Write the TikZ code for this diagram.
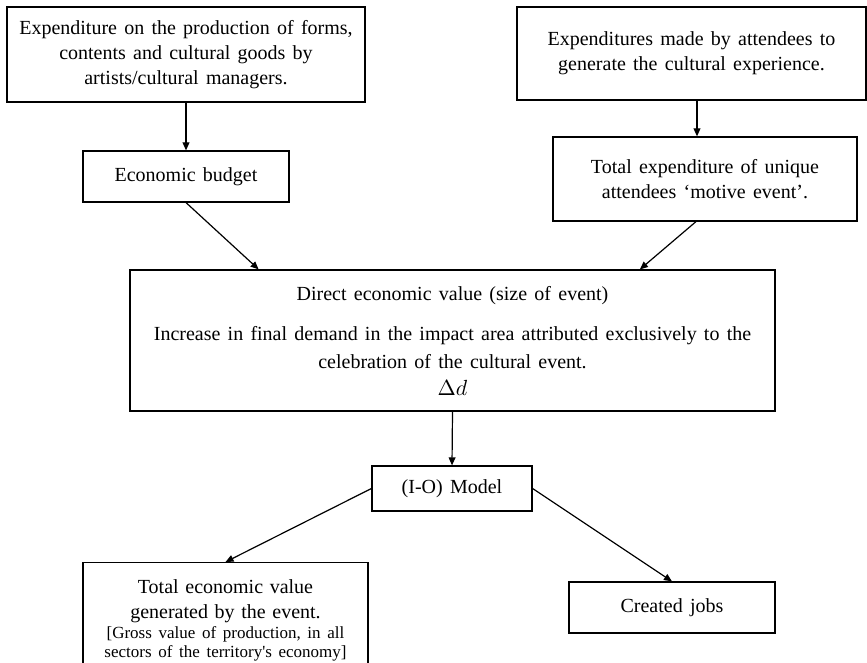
\documentclass[tikz,border=0pt]{standalone}
\usepackage{fontspec}
\setmainfont{Liberation Serif}[WordSpace=1.45]
\usetikzlibrary{arrows.meta,calc}

\tikzset{
    box/.style={draw, line width=0.6pt, align=center, inner sep=0pt,
        font=\fontsize{10}{12.5}\selectfont},
    flow/.style={line width=0.6pt, -{Triangle[length=4pt,width=3.4pt]}},
}

\begin{document}
\begin{tikzpicture}[x=0.5pt, y=-0.5pt]
    \useasboundingbox (0,0) rectangle (867,663);

    \node[box, minimum width=179pt, minimum height=47.5pt] (prod) at (186,54.5)
        {Expenditure on the production of forms,\\ contents and cultural goods by\\ artists/cultural managers.};
    \node[box, minimum width=174.5pt, minimum height=46.5pt] (attend) at (691.5,53.5)
        {Expenditures made by attendees to\\ generate the cultural experience.};

    \node[box, minimum width=103pt, minimum height=25.5pt] (budget) at (186,176.5) {Economic budget};
    \node[box, minimum width=152pt, minimum height=42pt] (unique) at (705,179)
        {Total expenditure of unique\\ attendees ‘motive event’.};

    \node[box, minimum width=322.5pt, minimum height=70.5pt] (direct) at (452.5,340.5)
        {Direct economic value (size of event)\\[7.5pt]
         Increase in final demand in the impact area attributed exclusively to the\\[1.5pt]
         celebration of the cultural event.\\[1pt]
         {\fontsize{11}{13}\selectfont$\Delta d$}};

    \node[box, minimum width=80pt, minimum height=22.5pt] (model) at (452,488.5) {(I-O) Model};

    \node[box, anchor=north, text width=142.5pt, inner ysep=8.5pt] (total) at (225.5,562)
        {\centering Total economic value\\ generated by the event.\par
         \fontsize{8.5}{9.8}\selectfont [Gross value of production, in all\\
         sectors of the territory\textquotesingle s economy]\par\vspace{12pt}};
    \node[box, minimum width=103pt, minimum height=25.5pt] (jobs) at (672,607.5) {Created jobs};

    \draw[flow] (prod.south) -- (budget.north);
    \draw[flow] ([xshift=2.75pt]attend.south) -- ([xshift=2.75pt]attend.south |- unique.north);
    \draw[flow] (budget.south) -- ($(direct.north west)!0.2!(direct.north east)$);
    \draw[flow] ([xshift=-4.5pt]unique.south) -- ($(direct.north west)!0.79!(direct.north east)$);
    \draw[flow] (direct.south) -- (model.north);
    \draw[flow] (model.west) -- (total.north);
    \draw[flow] (model.east) -- (jobs.north);
\end{tikzpicture}
\end{document}
